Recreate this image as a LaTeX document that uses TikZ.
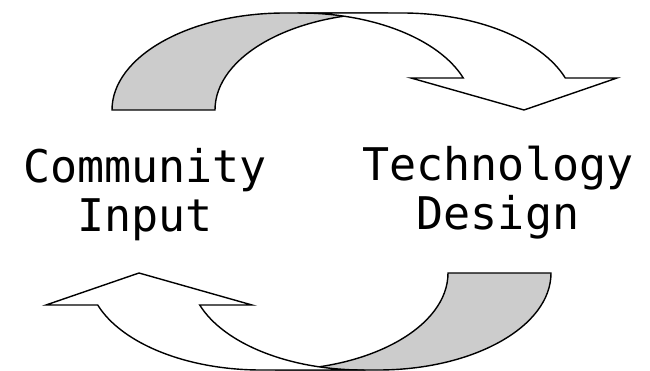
\documentclass[tikz,border=0pt]{standalone}
\usepackage{fontspec}
\setmonofont{DejaVu Sans Mono}
\definecolor{backgray}{RGB}{204,204,204}
\tikzset{
  band/.style={draw=black, line width=1.4pt, line join=miter},
  backband/.style={band, fill=backgray},
  frontband/.style={band, fill=white},
  lbl/.style={font=\ttfamily\fontsize{45}{49}\selectfont, align=center, inner sep=0pt, anchor=base}
}
\begin{document}
\begin{tikzpicture}[x=1pt,y=-1pt]
\useasboundingbox (0,0) rectangle (650,371);
% top curved arrow
\begin{scope}
  \draw[backband] (112,110) arc[start angle=180, end angle=270, x radius=173, y radius=97]
     -- (388,13) arc[start angle=270, end angle=180, x radius=173, y radius=97] -- cycle;
  \draw[frontband] (300,13) -- (402,13)
     arc[start angle=270, end angle=340.74, x radius=173, y radius=97]
     -- (617,78) -- (524,110) -- (411,78) -- (463.3,78)
     arc[start angle=340.74, end angle=270, x radius=173, y radius=97] -- cycle;
\end{scope}
% bottom curved arrow (point reflection of the top one)
\begin{scope}[rotate around={180:(331.5,191.5)}]
  \draw[backband] (112,110) arc[start angle=180, end angle=270, x radius=173, y radius=97]
     -- (388,13) arc[start angle=270, end angle=180, x radius=173, y radius=97] -- cycle;
  \draw[frontband] (300,13) -- (402,13)
     arc[start angle=270, end angle=340.74, x radius=173, y radius=97]
     -- (617,78) -- (524,110) -- (411,78) -- (463.3,78)
     arc[start angle=340.74, end angle=270, x radius=173, y radius=97] -- cycle;
\end{scope}
\node[lbl] (community) at (145,232) {Community\\Input};
\node[lbl] (technology) at (498,230) {Technology\\Design};
\end{tikzpicture}
\end{document}
